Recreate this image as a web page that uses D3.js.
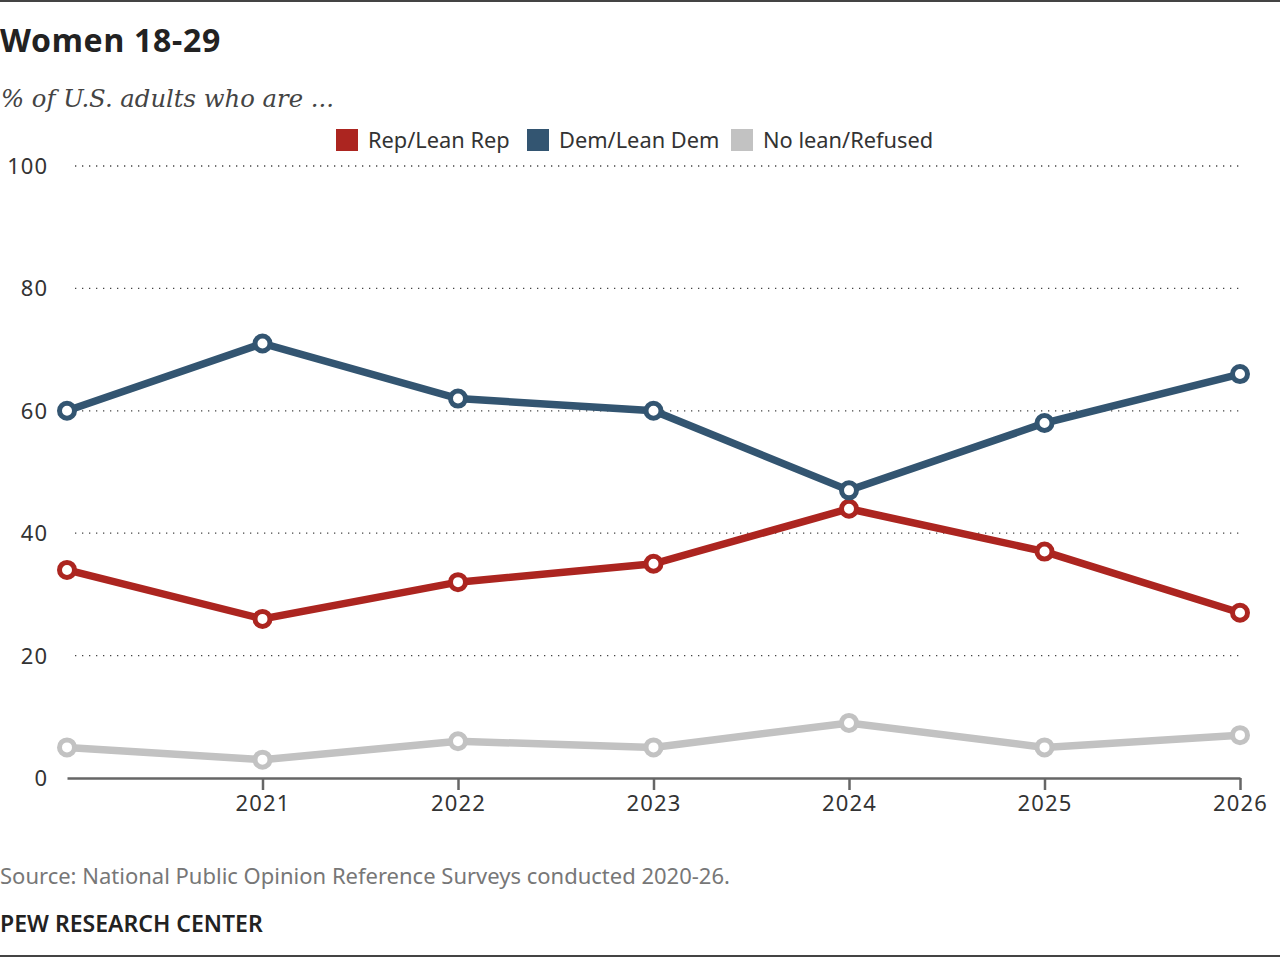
<!DOCTYPE html>
<html>
<head>
<meta charset="utf-8">
<script src="https://cdn.jsdelivr.net/npm/d3@7"></script>
<style>
  body { margin: 0; background: #fff; }
  text { font-family: "Noto Sans", Roboto, sans-serif; }
</style>
</head>
<body>
<script>
let years = [2020, 2021, 2022, 2023, 2024, 2025, 2026]
let repValues = [34, 26, 32, 35, 44, 37, 27]
let demValues = [60, 71, 62, 60, 47, 58, 66]
let noLeanValues = [5, 3, 6, 5, 9, 5, 7]
let seriesNames = ['Rep/Lean Rep', 'Dem/Lean Dem', 'No lean/Refused']
let seriesColors = ['#ac2520', '#335571', '#c2c2c2']
let yTicks = [0, 20, 40, 60, 80, 100]
let xTickYears = [2021, 2022, 2023, 2024, 2025, 2026]

let width = 1280
let height = 958

let svg = d3.select('body')
  .append('svg')
  .attr('width', width)
  .attr('height', height)

// frame lines
svg.append('rect').attr('x', 0).attr('y', 0).attr('width', width).attr('height', 2).attr('fill', '#444')
svg.append('rect').attr('x', 0).attr('y', 955).attr('width', width).attr('height', 2).attr('fill', '#444')

svg.append('text')
  .attr('x', 0).attr('y', 52)
  .attr('font-size', 32).attr('font-weight', 'bold')
  .attr('letter-spacing', 0.7)
  .attr('fill', '#222')
  .text('Women 18-29')

svg.append('text')
  .attr('x', 1).attr('y', 107)
  .style('font-family', '"DejaVu Serif", "Liberation Serif", serif')
  .attr('font-style', 'italic')
  .attr('font-size', 24.3)
  .attr('fill', '#444')
  .text('% of U.S. adults who are ...')

let scaleX = d3.scaleLinear().domain([2020, 2026]).range([67, 1240])
let scaleY = d3.scaleLinear().domain([0, 100]).range([778, 166])

// legend
let legendX = [336, 527, 731]
let legend = svg.selectAll('g.legend')
  .data(seriesNames)
  .enter()
  .append('g')
  .attr('class', 'legend')
  .attr('transform', (d, i) => 'translate(' + legendX[i] + ',129)')
legend.append('rect')
  .attr('width', 22).attr('height', 22)
  .attr('fill', (d, i) => seriesColors[i])
legend.append('text')
  .attr('x', 32).attr('y', 19)
  .attr('font-size', 21.8)
  .attr('fill', '#333')
  .text(d => d)

// y grid
svg.selectAll('line.grid')
  .data(yTicks.filter(d => d > 0))
  .enter()
  .append('line')
  .attr('class', 'grid')
  .attr('x1', 75).attr('x2', 1240)
  .attr('y1', d => scaleY(d)).attr('y2', d => scaleY(d))
  .attr('stroke', '#444')
  .attr('stroke-width', 1.3)
  .attr('stroke-dasharray', '1.3,5.7')

svg.selectAll('text.ylab')
  .data(yTicks)
  .enter()
  .append('text')
  .attr('class', 'ylab')
  .attr('x', 48)
  .attr('y', d => scaleY(d) + 8)
  .attr('text-anchor', 'end')
  .attr('font-size', 22)
  .attr('letter-spacing', 1)
  .attr('fill', '#333')
  .text(d => d)

// x axis
let xAxis = d3.axisBottom(scaleX)
  .tickValues(xTickYears)
  .tickFormat(d3.format('d'))
  .tickSize(12)
  .tickSizeOuter(0)
let gx = svg.append('g')
  .attr('transform', 'translate(0,' + scaleY(0) + ')')
  .call(xAxis)
gx.select('.domain').attr('stroke', '#666').attr('stroke-width', 2.5)
gx.selectAll('.tick line').attr('stroke', '#666').attr('stroke-width', 2.5).attr('y1', 0)
gx.selectAll('.tick text')
  .attr('font-size', 22)
  .attr('letter-spacing', 1.2)
  .attr('fill', '#333')
  .attr('y', 17)
  .style('font-family', '"Noto Sans", Roboto, sans-serif')

// lines
let allSeries = [repValues, demValues, noLeanValues]
let line = d3.line()
  .x((d, i) => scaleX(years[i]))
  .y(d => scaleY(d))

// no lean first, then rep, then dem on top
let order = [2, 0, 1]
order.forEach(s => {
  let g = svg.append('g')
  g.append('path')
    .datum(allSeries[s])
    .attr('d', line)
    .attr('fill', 'none')
    .attr('stroke', seriesColors[s])
    .attr('stroke-width', 7.5)
  g.selectAll('circle')
    .data(allSeries[s])
    .enter()
    .append('circle')
    .attr('cx', (d, i) => scaleX(years[i]))
    .attr('cy', d => scaleY(d))
    .attr('r', 7.5)
    .attr('fill', '#fff')
    .attr('stroke', seriesColors[s])
    .attr('stroke-width', 5)
})

svg.append('text')
  .attr('x', 0).attr('y', 884)
  .attr('font-size', 22)
  .attr('fill', '#777')
  .text('Source: National Public Opinion Reference Surveys conducted 2020-26.')

svg.append('text')
  .attr('x', 0).attr('y', 932)
  .attr('font-size', 23)
  .attr('font-weight', 600)
  .attr('fill', '#222')
  .text('PEW RESEARCH CENTER')
</script>
</body>
</html>
